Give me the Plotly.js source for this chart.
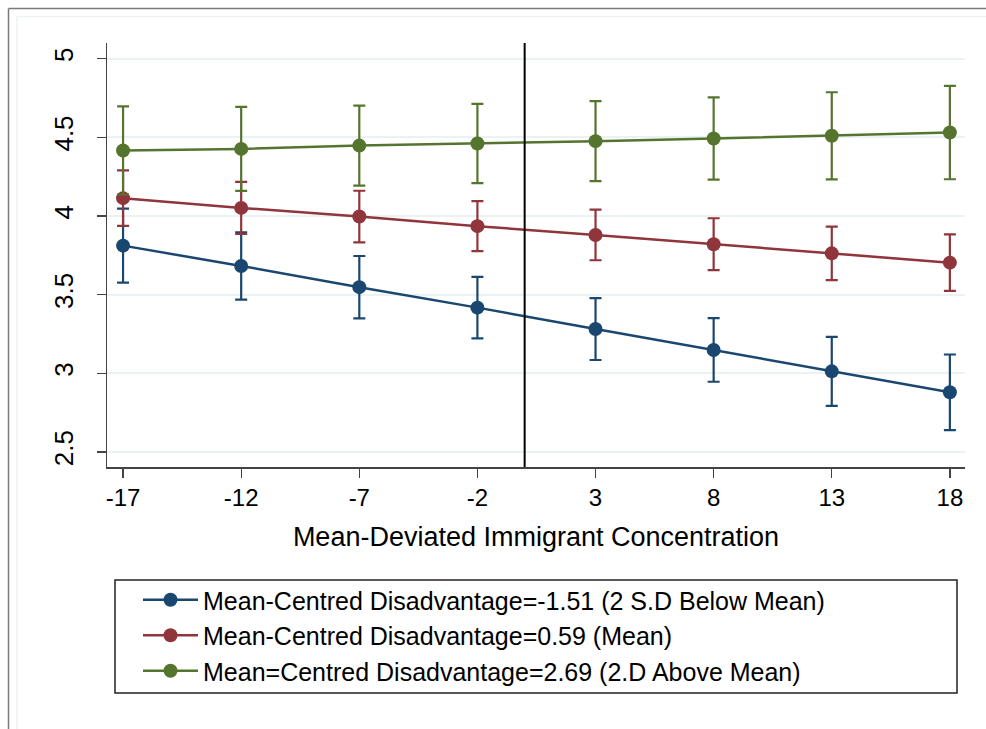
<!DOCTYPE html>
<html>
<head>
<meta charset="utf-8">
<script src="https://cdn.plot.ly/plotly-3.0.1.min.js"></script>
<style>
  html, body { margin: 0; padding: 0; background: #ffffff; }
  #chart { width: 986px; height: 729px; }
</style>
</head>
<body>
<div id="chart"></div>
<script>
// ---- Data ----
const xValues = [-17, -12, -7, -2, 3, 8, 13, 18];
const xTickLabels = ["-17", "-12", "-7", "-2", "3", "8", "13", "18"];
const yTickValues = [2.5, 3, 3.5, 4, 4.5, 5];
const yTickLabels = ["2.5", "3", "3.5", "4", "4.5", "5"];

const seriesNames = [
  "Mean-Centred Disadvantage=-1.51 (2 S.D Below Mean)",
  "Mean-Centred Disadvantage=0.59 (Mean)",
  "Mean=Centred Disadvantage=2.69 (2.D Above Mean)"
];

const lowValues  = [3.812, 3.683, 3.548, 3.418, 3.282, 3.149, 3.013, 2.880];
const lowErr     = [0.235, 0.214, 0.198, 0.195, 0.197, 0.202, 0.219, 0.240];

const meanValues = [4.114, 4.052, 3.997, 3.936, 3.880, 3.821, 3.763, 3.704];
const meanErr    = [0.176, 0.165, 0.164, 0.159, 0.161, 0.165, 0.170, 0.180];

const highValues = [4.417, 4.427, 4.448, 4.461, 4.476, 4.493, 4.510, 4.531];
const highErr    = [0.280, 0.267, 0.254, 0.252, 0.254, 0.261, 0.277, 0.297];

const referenceLineX = 0;

const xAxisTitle = "Mean-Deviated Immigrant Concentration";

// ---- Styles ----
const colors = ["#1a476f", "#90353b", "#55752f"];
const FONT = "'Liberation Sans', Arial, Helvetica, sans-serif";

function makeTrace(y, err, name, color, group) {
  return {
    type: "scatter",
    mode: "lines+markers",
    x: xValues,
    y: y,
    name: name,
    legendgroup: group,
    line: { color: color, width: 2.5 },
    marker: { color: color, size: 14 },
    error_y: {
      type: "data",
      symmetric: true,
      array: err,
      color: color,
      thickness: 2.2,
      width: 6
    },
    hoverinfo: "x+y"
  };
}

const traces = [
  makeTrace(lowValues, lowErr, seriesNames[0], colors[0], "g1"),
  makeTrace(meanValues, meanErr, seriesNames[1], colors[1], "g2"),
  makeTrace(highValues, highErr, seriesNames[2], colors[2], "g3")
];

// plot area pixel geometry helpers (for frame/legend box in paper coords)
const L = 107, R = 965, T = 43, B = 467;
const px2paperX = p => (p - L) / (R - L);
const px2paperY = p => (B - p) / (B - T);

const layout = {
  width: 986,
  height: 729,
  margin: { l: L, r: 986 - R, t: T, b: 729 - B, pad: 0 },
  paper_bgcolor: "#ffffff",
  plot_bgcolor: "#ffffff",
  font: { family: FONT, color: "#000000", size: 22 },
  showlegend: true,
  legend: {
    x: px2paperX(138),
    y: px2paperY(577),
    xanchor: "left",
    yanchor: "top",
    bgcolor: "rgba(0,0,0,0)",
    borderwidth: 0,
    tracegroupgap: 0,
    itemwidth: 55,
    font: { family: FONT, size: 25, color: "#000000" }
  },
  xaxis: {
    range: [-17.68, 18.64],
    tickmode: "array",
    tickvals: xValues,
    ticktext: xTickLabels,
    ticks: "outside",
    ticklen: 9,
    tickwidth: 1.3,
    tickcolor: "#444444",
    showline: true,
    linecolor: "#444444",
    linewidth: 1.5,
    showgrid: false,
    zeroline: false,
    tickfont: { family: FONT, size: 24, color: "#000000" },
    title: { text: xAxisTitle, font: { family: FONT, size: 27, color: "#000000" }, standoff: 17 },
    automargin: false
  },
  yaxis: {
    range: [2.405, 5.10],
    tickmode: "array",
    tickvals: yTickValues,
    ticktext: yTickLabels,
    tickangle: -90,
    ticks: "outside",
    ticklen: 9,
    tickwidth: 1.3,
    tickcolor: "#444444",
    showline: true,
    linecolor: "#444444",
    linewidth: 1.5,
    showgrid: true,
    gridcolor: "#eaf2f3",
    gridwidth: 2,
    zeroline: false,
    ticklabelstandoff: 13,
    tickfont: { family: FONT, size: 26, color: "#000000" },
    automargin: false
  },
  shapes: [
    // reference line
    { type: "line", xref: "x", yref: "paper", x0: referenceLineX, x1: referenceLineX, y0: 0, y1: 1,
      line: { color: "#000000", width: 2 }, layer: "above" },
    // legend box
    { type: "rect", xref: "paper", yref: "paper",
      x0: px2paperX(115), x1: px2paperX(957), y0: px2paperY(693), y1: px2paperY(580),
      line: { color: "#222222", width: 1.5 }, fillcolor: "rgba(0,0,0,0)" },
    // outer frame (top & left)
    { type: "line", xref: "paper", yref: "paper",
      x0: px2paperX(8.5), x1: px2paperX(990), y0: px2paperY(8.5), y1: px2paperY(8.5),
      line: { color: "#7a7a7a", width: 1.5 } },
    { type: "line", xref: "paper", yref: "paper",
      x0: px2paperX(8.5), x1: px2paperX(8.5), y0: px2paperY(8.5), y1: px2paperY(740),
      line: { color: "#7a7a7a", width: 1.5 } },
    // inner light frame
    { type: "line", xref: "paper", yref: "paper",
      x0: px2paperX(17), x1: px2paperX(990), y0: px2paperY(16.5), y1: px2paperY(16.5),
      line: { color: "#eef2f4", width: 1.5 } },
    { type: "line", xref: "paper", yref: "paper",
      x0: px2paperX(17), x1: px2paperX(17), y0: px2paperY(16.5), y1: px2paperY(740),
      line: { color: "#eef2f4", width: 1.5 } }
  ]
};

Plotly.newPlot("chart", traces, layout, { displayModeBar: false, staticPlot: true });
</script>
</body>
</html>
